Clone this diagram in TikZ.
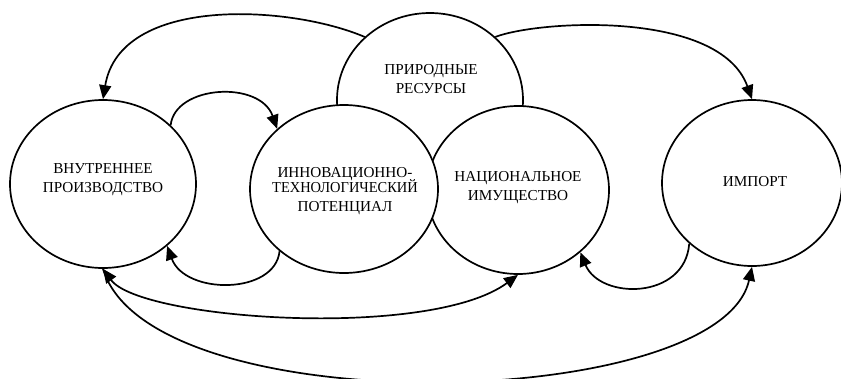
\documentclass[tikz,border=0pt]{standalone}
\usepackage{fontspec}
\setmainfont{Liberation Serif}
\usepackage{graphicx}
\usetikzlibrary{shapes.geometric,arrows.meta}
\begin{document}
\begin{tikzpicture}[x=1pt,y=-1pt,
  >={Triangle[length=14pt,width=12pt]},
  blob/.style={ellipse,draw,line width=1.7pt,fill=white,inner sep=0pt},
  txt/.style={font=\fontsize{15.2}{19}\selectfont,align=center,inner sep=0pt},
  link/.style={line width=1.7pt,->},
  ]
\useasboundingbox (0,0) rectangle (841,378);
% circles
\node[blob,minimum width=186pt,minimum height=174pt] (prir) at (430,100) {};
\node[blob,minimum width=182pt,minimum height=168pt] (nat) at (518,190) {};
\node[blob,minimum width=188pt,minimum height=168pt] (innov) at (344,189) {};
\node[blob,minimum width=186pt,minimum height=168pt] (prod) at (103,184) {};
\node[blob,minimum width=180pt,minimum height=166pt] (imp) at (752,183) {};
% texts
\node[txt] (prirtxt) at (431,79) {ПРИРОДНЫЕ\\РЕСУРСЫ};
\node[txt] (natxt) at (518,187.5) {НАЦИОНАЛЬНОЕ\\ИМУЩЕСТВО};
\node[txt] (innovtxt) at (345,191) {ИННОВАЦИОННО-\\[-4pt]\scalebox{0.95}[1]{ТЕХНОЛОГИЧЕСКИЙ}\\ПОТЕНЦИАЛ};
\node[txt] (prodtxt) at (103,180) {ВНУТРЕННЕЕ\\ПРОИЗВОДСТВО};
\node[txt] (imptxt) at (755,182) {ИМПОРТ};
% connectors
\draw[link] (prir.136) .. controls (290,5) and (120,-5) .. (prod.north);
\draw[link] (prir.44) .. controls (540,20) and (720,10) .. (imp.north);
\draw[link] (prod.41) .. controls (175,85) and (260,80) .. (innov.138);
\draw[link] (innov.224) .. controls (275,295) and (185,295) .. (prod.-44);
\draw[link] (imp.224) .. controls (685,300) and (600,300) .. (nat.-45);
\draw[link,<->] (prod.south) .. controls (140,320) and (430,340) .. (nat.south);
\draw[link] (prod.south) .. controls (150,425) and (720,412) .. (imp.south);
\end{tikzpicture}
\end{document}
